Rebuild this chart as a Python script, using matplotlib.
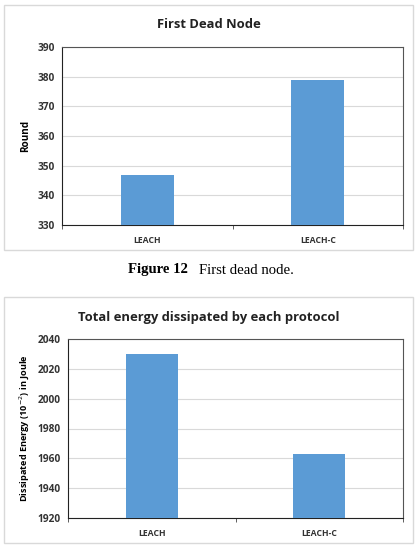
import matplotlib
matplotlib.use("Agg")
import matplotlib.pyplot as plt
from matplotlib.patches import Rectangle

protocols = ["LEACH", "LEACH-C"]
first_dead_round = [347, 379]
energy_dissipated = [2030, 1963]
round_ticks = [330, 340, 350, 360, 370, 380, 390]
energy_ticks = [1920, 1940, 1960, 1980, 2000, 2020, 2040]

W, H = 417, 555
fig = plt.figure(figsize=(W / 100, H / 100), dpi=100)
fig.patch.set_facecolor("white")

SANS = ["Open Sans", "DejaVu Sans"]
BAR = "#5B9BD5"

def box(x0, y0, x1, y1):
    fig.patches.append(Rectangle((x0 / W, 1 - y1 / H), (x1 - x0) / W, (y1 - y0) / H,
                                 transform=fig.transFigure, facecolor="white",
                                 edgecolor="#d9d9d9", linewidth=1.0, zorder=-5))

def ax_at(l, t, r, b):
    ax = fig.add_axes([l / W, 1 - b / H, (r - l) / W, (b - t) / H])
    ax.set_zorder(2)
    return ax

def style(ax, ticks, vals, ylabel, ylabel_size, title, title_y):
    x = range(len(protocols))
    ax.bar(x, vals, width=0.31, color=BAR, zorder=3)
    ax.set_xlim(-0.5, 1.5)
    ax.set_ylim(ticks[0], ticks[-1])
    ax.set_yticks(ticks)
    ax.set_yticklabels([str(t) for t in ticks], fontsize=7.3, fontweight="bold",
                       family=SANS, color="#333333")
    ax.set_xticks([0, 1])
    ax.set_xticklabels(protocols, fontsize=6.2, fontweight="bold", family=SANS,
                       color="#333333")
    ax.tick_params(axis="x", length=0, pad=8)
    ax.tick_params(axis="y", length=0, pad=5)
    ax.set_xticks([-0.5, 0.5, 1.5], minor=True)
    ax.tick_params(axis="x", which="minor", length=3, direction="out", color="#444444")
    ax.grid(axis="y", color="#d9d9d9", linewidth=0.8, zorder=0)
    for s in ax.spines.values():
        s.set_color("#555555")
        s.set_linewidth(0.8)
    ax.spines["left"].set_color("#222222")
    ax.spines["bottom"].set_color("#222222")
    ax.set_ylabel(ylabel, fontsize=ylabel_size, fontweight="bold", family=SANS, labelpad=5)
    fig.text(0.5 * (4 + 413) / W, 1 - title_y / H, title, ha="center", va="center",
             fontsize=9.4, fontweight="bold", family=SANS, color="#222222")

box(4, 5, 413, 250)
box(4, 297, 413, 543)

ax1 = ax_at(62, 47, 403, 225)
style(ax1, round_ticks, first_dead_round, "Round", 7.2, "First Dead Node", 25)

ax2 = ax_at(68, 339, 403, 518)
style(ax2, energy_ticks, energy_dissipated, r"Dissipated Energy (10$^{-2}$) in Joule", 6.6,
      "Total energy dissipated by each protocol", 317)

fig.text(188 / W, 1 - 270 / H, "Figure 12", ha="right", va="center", fontsize=10.6,
         fontweight="bold", family=["Liberation Serif"])
fig.text(199 / W, 1 - 270 / H, "First dead node.", ha="left", va="center", fontsize=10.6,
         family=["Liberation Serif"])

fig.savefig("out.png", dpi=100)
